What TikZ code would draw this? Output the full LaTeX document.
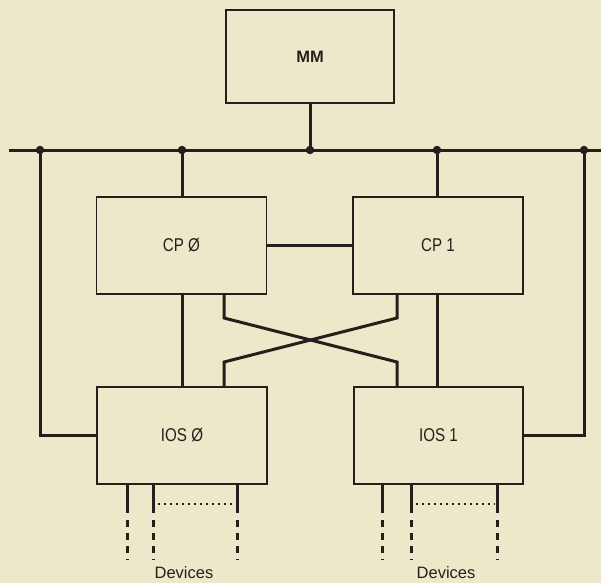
\documentclass[tikz,border=0pt]{standalone}
\usepackage{fontspec}
\setmainfont{Liberation Sans}
\newfontfamily\condfont[FakeStretch=0.82]{Liberation Sans}
\newfontfamily\plainfont{Liberation Sans}
\definecolor{paper}{RGB}{238,232,202}
\definecolor{ink}{RGB}{35,32,28}
\begin{document}
\begin{tikzpicture}[x=1pt,y=-1pt,
  unit/.style={draw=ink,line width=1.6pt,fill=paper,inner sep=0pt,font=\condfont\fontsize{18.5}{20}\selectfont,text=ink},
  wire/.style={draw=ink,line width=3pt,line cap=butt},
  jn/.style={circle,fill=ink,inner sep=0pt,minimum size=8.5pt},
  devsolid/.style={draw=ink,line width=3pt},
  devdash/.style={draw=ink,line width=3pt,dash pattern=on 7pt off 6pt},
  devdot/.style={draw=ink,line width=2.8pt,dash pattern=on 2pt off 4pt},
  lbl/.style={font=\fontsize{16.5}{18}\selectfont,text=ink}]
\fill[paper] (0,0) rectangle (601,583);
\useasboundingbox (0,0) rectangle (601,583);

% boxes
\node[unit,minimum width=168pt,minimum height=93pt,font=\plainfont\fontsize{16.5}{18}\selectfont\bfseries] (mm) at (310,56.5) {MM};
\node[unit,minimum width=170pt,minimum height=97pt] (cp0) at (181.5,245.5) {CP Ø};
\node[unit,minimum width=170pt,minimum height=97pt] (cp1) at (438,245.5) {CP 1};
\node[unit,minimum width=170pt,minimum height=97pt] (ios0) at (182,435.5) {IOS Ø};
\node[unit,minimum width=169pt,minimum height=97pt] (ios1) at (438.5,435.5) {IOS 1};

% bus
\coordinate (busL) at (9,150);
\coordinate (busR) at (601,150);
\coordinate (j1) at (40,150);
\coordinate (j2) at (182,150);
\coordinate (j3) at (310,150);
\coordinate (j4) at (437,150);
\coordinate (j5) at (584,150);
\draw[wire] (busL) -- (busR);

\draw[wire] (mm.south -| j3) -- (j3);
\draw[wire] (j2) -- (cp0.north -| j2);
\draw[wire] (j4) -- (cp1.north -| j4);
\draw[wire] (j1) |- (ios0.west);
\draw[wire] (j5) |- (ios1.east);

% CP to CP
\draw[wire] (cp0.east) -- (cp1.west);

% CP to IOS straight
\draw[wire] (cp0.south -| j2) -- (ios0.north -| j2);
\draw[wire] (cp1.south -| j4) -- (ios1.north -| j4);

% crossed links
\coordinate (xa) at (224,0);
\coordinate (xb) at (397,0);
\draw[wire,line join=miter] (cp0.south -| xa) -- (224,318) -- (397,362) -- (ios1.north -| xb);
\draw[wire,line join=miter] (cp1.south -| xb) -- (397,318) -- (224,362) -- (ios0.north -| xa);

% junction dots
\foreach \j in {j1,j2,j3,j4,j5} \node[jn] at (\j) {};

% device lines
\foreach \x in {127,153,237.5} {
  \draw[devsolid] (\x,484) -- (\x,513);
  \draw[devdash] (\x,520) -- (\x,560);
}
\foreach \x in {382,411,497} {
  \draw[devsolid] (\x,484) -- (\x,513);
  \draw[devdash] (\x,520) -- (\x,560);
}
\draw[devdot] (158,504) -- (235,504);
\draw[devdot] (416,504) -- (495,504);

\node[lbl] (dev0) at (184,573) {Devices};
\node[lbl] (dev1) at (446,573) {Devices};
\end{tikzpicture}
\end{document}
